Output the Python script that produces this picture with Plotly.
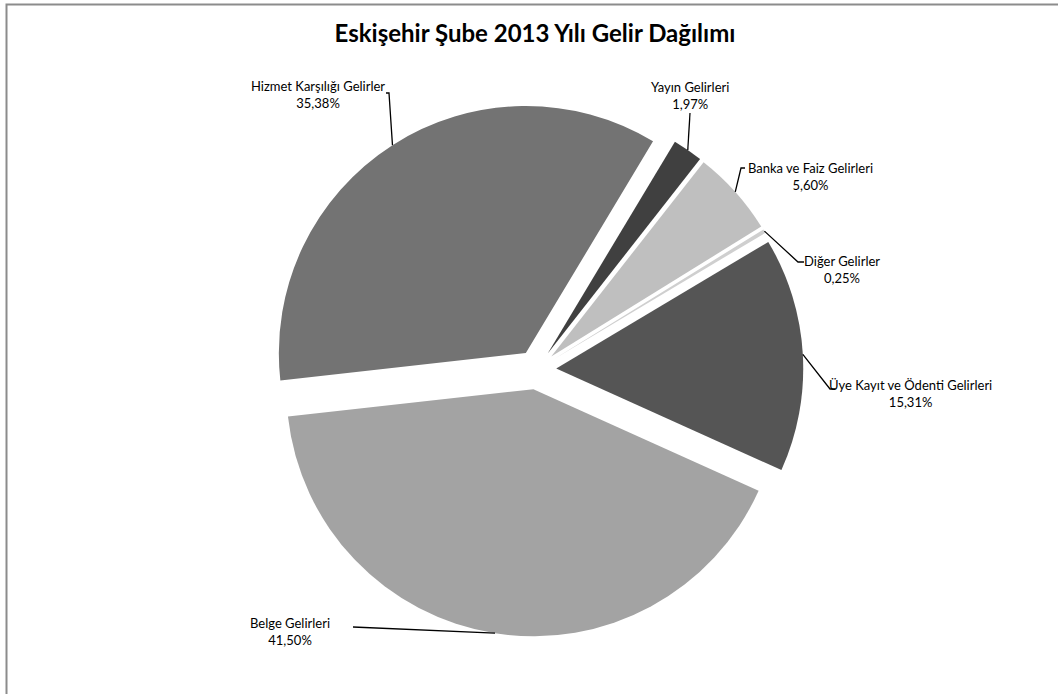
import math
import plotly.graph_objects as go

# ---- data ----
categories = [
    "Yayın Gelirleri",
    "Banka ve Faiz Gelirleri",
    "Diğer Gelirler",
    "Üye Kayıt ve Ödenti Gelirleri",
    "Belge Gelirleri",
    "Hizmet Karşılığı Gelirler",
]
shares = [1.97, 5.60, 0.25, 15.31, 41.50, 35.38]
colors = ["#404040", "#bfbfbf", "#cfcfcf", "#555555", "#a3a3a3", "#737373"]
title_text = "Eskişehir Şube 2013 Yılı Gelir Dağılımı"

# ---- layout geometry (pixels) ----
W, H = 1058, 694
CX, CY = 536.5, 369.7      # undisplaced pie centre
R = 247                     # pie radius
PULL = 0.08
ROT = 31

box = 2 * R * (1 + PULL)
dom_x = [(CX - box / 2) / W, (CX + box / 2) / W]
dom_y = [1 - (CY + box / 2) / H, 1 - (CY - box / 2) / H]

def px(x, y):
    return x / W, 1 - y / H

# label placements: text centre and leader elbow points (pixels)
label_pos = {
    "Yayın Gelirleri": ((690, 96), [(690, 113)]),
    "Banka ve Faiz Gelirleri": ((810, 176), [(741, 168), (745, 168)]),
    "Diğer Gelirler": ((842, 269), [(798, 262), (804, 262)]),
    "Üye Kayıt ve Ödenti Gelirleri": ((910, 393), [(830, 389), (835, 389)]),
    "Belge Gelirleri": ((290, 631), [(353, 627)]),
    "Hizmet Karşılığı Gelirler": ((318, 95), [(389, 93), (386, 93)]),
}

fig = go.Figure()
fig.add_trace(go.Pie(
    labels=categories,
    values=shares,
    marker=dict(colors=colors, line=dict(width=0)),
    pull=[PULL] * len(shares),
    sort=False,
    direction="clockwise",
    rotation=ROT,
    textinfo="none",
    hoverinfo="none",
    showlegend=False,
    domain=dict(x=dom_x, y=dom_y),
))

total = sum(shares)
start = ROT
shapes = []
annotations = []
for cat, v in zip(categories, shares):
    span = v / total * 360
    mid = math.radians(start + span / 2)
    start += span
    ax = CX + R * (1 + PULL) * math.sin(mid)
    ay = CY - R * (1 + PULL) * math.cos(mid)
    (tx, ty), elbows = label_pos[cat]
    pts = [(ax, ay)] + elbows
    path = "M " + " L ".join(f"{px(x, y)[0]:.5f},{px(x, y)[1]:.5f}" for x, y in pts)
    shapes.append(dict(type="path", path=path, xref="paper", yref="paper",
                       line=dict(color="#000000", width=1.3)))
    pct = f"{v:.2f}".replace(".", ",") + "%"
    x, y = px(tx, ty)
    annotations.append(dict(x=x, y=y, xref="paper", yref="paper",
                            text=f"{cat}<br>{pct}", showarrow=False,
                            xanchor="center", yanchor="middle",
                            font=dict(family="Lato", size=13, color="#000000")))

# outer chart border
shapes.append(dict(type="rect", xref="paper", yref="paper",
                   x0=6.5 / W, x1=1.02, y0=-0.02, y1=1 - 4.5 / H,
                   line=dict(color="#8c8c8c", width=2)))

fig.update_layout(
    width=W, height=H,
    margin=dict(l=0, r=0, t=0, b=0),
    paper_bgcolor="white",
    plot_bgcolor="white",
    title=dict(text=f"<b>{title_text}</b>", x=535 / W, xanchor="center",
               y=1 - 34 / H, yanchor="middle", yref="container",
               font=dict(family="Lato", size=24, color="#000000")),
    shapes=shapes,
    annotations=annotations,
)

fig.write_html(
    "out.html",
    config={"displayModeBar": False},
    post_script="document.body.style.margin='0';document.body.style.overflow='hidden';",
)
